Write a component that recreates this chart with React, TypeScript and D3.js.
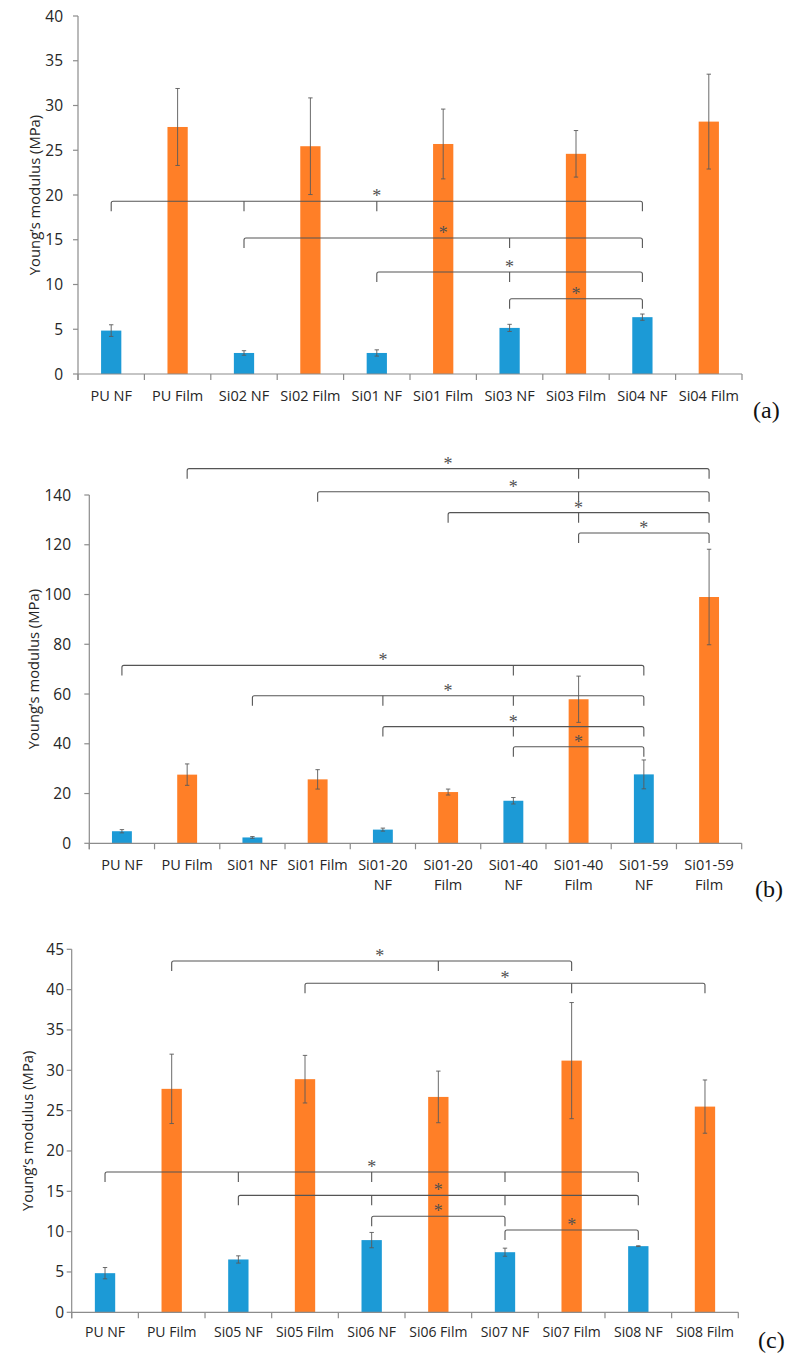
import React, { useEffect } from "react";
import * as d3 from "d3";

// ---------- DATA ----------
const catsA = ["PU NF", "PU Film", "Si02 NF", "Si02 Film", "Si01 NF", "Si01 Film", "Si03 NF", "Si03 Film", "Si04 NF", "Si04 Film"];
const valsA = [4.85, 27.6, 2.35, 25.45, 2.35, 25.7, 5.15, 24.6, 6.35, 28.2];
const errA = [0.65, 4.3, 0.25, 5.4, 0.35, 3.9, 0.4, 2.6, 0.35, 5.3];
const ticksA = [0, 5, 10, 15, 20, 25, 30, 35, 40];
const bracketsA = [
  { from: 0, to: 8, mids: [2, 4], level: 19.3 },
  { from: 2, to: 8, mids: [6], level: 15.2 },
  { from: 4, to: 8, mids: [6], level: 11.4 },
  { from: 6, to: 8, mids: [], level: 8.4 },
];

const catsB = ["PU NF", "PU Film", "Si01 NF", "Si01 Film", "Si01-20 NF", "Si01-20 Film", "Si01-40 NF", "Si01-40 Film", "Si01-59 NF", "Si01-59 Film"];
const valsB = [4.85, 27.6, 2.35, 25.7, 5.5, 20.6, 17.1, 57.9, 27.7, 99.0];
const errB = [0.65, 4.3, 0.35, 3.9, 0.6, 1.2, 1.3, 9.3, 5.8, 19.2];
const ticksB = [0, 20, 40, 60, 80, 100, 120, 140];
const bracketsB = [
  { from: 1, to: 9, mids: [7], level: 150.6 },
  { from: 3, to: 9, mids: [7], level: 141.3 },
  { from: 5, to: 9, mids: [7], level: 132.9 },
  { from: 7, to: 9, mids: [], level: 124.7 },
  { from: 0, to: 8, mids: [6], level: 71.5 },
  { from: 2, to: 8, mids: [4, 6], level: 59.3 },
  { from: 4, to: 8, mids: [6], level: 46.9 },
  { from: 6, to: 8, mids: [], level: 38.8 },
];

const catsC = ["PU NF", "PU Film", "Si05 NF", "Si05 Film", "Si06 NF", "Si06 Film", "Si07 NF", "Si07 Film", "Si08 NF", "Si08 Film"];
const valsC = [4.85, 27.7, 6.55, 28.9, 8.95, 26.7, 7.45, 31.2, 8.2, 25.5];
const errC = [0.7, 4.3, 0.45, 2.95, 0.95, 3.2, 0.5, 7.2, 0.05, 3.3];
const ticksC = [0, 5, 10, 15, 20, 25, 30, 35, 40, 45];
const bracketsC = [
  { from: 1, to: 7, mids: [5], level: 43.55, star: 4.12 },
  { from: 3, to: 9, mids: [7], level: 40.8 },
  { from: 0, to: 8, mids: [2, 4, 6], level: 17.4 },
  { from: 2, to: 8, mids: [4, 6], level: 14.5 },
  { from: 4, to: 6, mids: [], level: 11.9 },
  { from: 6, to: 8, mids: [], level: 10.2 },
];

const yTitle = "Young’s modulus (MPa)";

// ---------- STYLE ----------
const BLUE = "#1C9AD6";
const ORANGE = "#FF7F27";
const AXIS = "#8C8C8C";
const TEXT = "#262626";
const BRACKET = "#555555";
const FONT = "'Open Sans', 'Noto Sans', sans-serif";

type Bracket = { from: number; to: number; mids: number[]; level: number; star?: number };

type PanelProps = {
  cats: string[];
  vals: number[];
  errs: number[];
  ticks: number[];
  brackets: Bracket[];
  x0: number;
  x1: number;
  yMaxPx: number;
  y0Px: number;
  yMax: number;
  tickLabelX: number;
  labelY: number;
  labelSize: number;
  titleX: number;
  letter: string;
  letterX: number;
  letterY: number;
};

function Panel(p: PanelProps) {
  const x = d3.scaleBand<number>().domain(d3.range(p.cats.length)).range([p.x0, p.x1]).paddingInner(0).paddingOuter(0);
  const y = d3.scaleLinear().domain([0, p.yMax]).range([p.y0Px, p.yMaxPx]);
  const bw = x.bandwidth();
  const barW = bw * 0.305;
  const cx = (i: number) => (x(Math.floor(i)) as number) + bw / 2 + (i - Math.floor(i)) * bw;
  const tickLen = 10;
  const r = 2;

  return (
    <g>
      {/* bars */}
      {p.vals.map((v, i) => (
        <rect key={"b" + i} x={cx(i) - barW / 2} y={y(v)} width={barW} height={y(0) - y(v)} fill={i % 2 === 0 ? BLUE : ORANGE} />
      ))}
      {/* error bars */}
      {p.vals.map((v, i) => {
        const e = p.errs[i];
        const c = cx(i);
        return (
          <g key={"e" + i} stroke="#5a5a5a" strokeWidth={0.9}>
            <line x1={c} x2={c} y1={y(v + e)} y2={y(v - e)} />
            <line x1={c - 2.2} x2={c + 2.2} y1={y(v + e)} y2={y(v + e)} />
            <line x1={c - 2.2} x2={c + 2.2} y1={y(v - e)} y2={y(v - e)} />
          </g>
        );
      })}
      {/* y axis */}
      <line x1={p.x0} x2={p.x0} y1={y(p.yMax)} y2={y(0) + 6} stroke={AXIS} strokeWidth={1.2} />
      {p.ticks.map((t) => (
        <g key={"yt" + t}>
          <line x1={p.x0 - 5} x2={p.x0} y1={y(t)} y2={y(t)} stroke={AXIS} strokeWidth={1.2} />
          <text x={p.tickLabelX} y={y(t) + 5.5} textAnchor="end" fontFamily={FONT} fontSize={15.5} fill={TEXT}>
            {t}
          </text>
        </g>
      ))}
      {/* x axis */}
      <line x1={p.x0} x2={p.x1} y1={y(0)} y2={y(0)} stroke={AXIS} strokeWidth={1.2} />
      {d3.range(p.cats.length + 1).map((i) => {
        const xx = i < p.cats.length ? (x(i) as number) : p.x1;
        return <line key={"xt" + i} x1={xx} x2={xx} y1={y(0)} y2={y(0) + 6} stroke={AXIS} strokeWidth={1.2} />;
      })}
      {p.cats.map((c, i) => {
        const wrap = c.length > 9;
        const lines = wrap ? [c.slice(0, c.lastIndexOf(" ")), c.slice(c.lastIndexOf(" ") + 1)] : [c];
        return (
          <text key={"xl" + i} x={cx(i)} y={p.labelY} textAnchor="middle" fontFamily={FONT} fontSize={p.labelSize} fill={TEXT}>
            {lines.map((l, k) => (
              <tspan key={k} x={cx(i)} dy={k === 0 ? 0 : 20}>
                {l}
              </tspan>
            ))}
          </text>
        );
      })}
      {/* y title */}
      <text
        transform={`translate(${p.titleX},${(y(0) + y(p.yMax)) / 2}) rotate(-90)`}
        textAnchor="middle"
        dominantBaseline="central"
        fontFamily={FONT}
        fontSize={14.8}
        fill={TEXT}
      >
        {yTitle}
      </text>
      {/* significance brackets */}
      {p.brackets.map((b, k) => {
        const xa = cx(b.from);
        const xb = cx(b.to);
        const yy = y(b.level);
        const d = `M${xa},${yy + tickLen} L${xa},${yy + r} Q${xa},${yy} ${xa + r},${yy} L${xb - r},${yy} Q${xb},${yy} ${xb},${yy + r} L${xb},${yy + tickLen}`;
        const sx = b.star !== undefined ? cx(b.star) : (xa + xb) / 2;
        return (
          <g key={"br" + k}>
            <path d={d} fill="none" stroke={BRACKET} strokeWidth={1.1} />
            {b.mids.map((m) => (
              <line key={m} x1={cx(m)} x2={cx(m)} y1={yy} y2={yy + tickLen} stroke={BRACKET} strokeWidth={1.1} />
            ))}
            <text x={sx} y={yy + 1} textAnchor="middle" fontFamily="'Liberation Serif', 'Times New Roman', serif" fontSize={18} fill="#505050">
              *
            </text>
          </g>
        );
      })}
      {/* panel letter */}
      <text x={p.letterX} y={p.letterY} fontFamily="'Liberation Serif', 'Times New Roman', serif" fontSize={24} fill="#111">
        {p.letter}
      </text>
    </g>
  );
}

export default function App() {
  useEffect(() => {
    document.body.style.margin = "0";
  }, []);
  return (
    <svg width={799} height={1364} style={{ display: "block", background: "#fff" }}>
      <rect width={799} height={1364} fill="#fff" />
      <Panel
        cats={catsA}
        vals={valsA}
        errs={errA}
        ticks={ticksA}
        brackets={bracketsA}
        x0={78}
        x1={742}
        yMaxPx={16}
        y0Px={374}
        yMax={40}
        tickLabelX={63}
        labelY={401}
        labelSize={14.5}
        titleX={34}
        letter="(a)"
        letterX={753}
        letterY={418}
      />
      <Panel
        cats={catsB}
        vals={valsB}
        errs={errB}
        ticks={ticksB}
        brackets={bracketsB}
        x0={89.3}
        x1={741.7}
        yMaxPx={495}
        y0Px={843.3}
        yMax={140}
        tickLabelX={71}
        labelY={870}
        labelSize={14.5}
        titleX={33}
        letter="(b)"
        letterX={755}
        letterY={897}
      />
      <Panel
        cats={catsC}
        vals={valsC}
        errs={errC}
        ticks={ticksC}
        brackets={bracketsC}
        x0={71.7}
        x1={738.3}
        yMaxPx={949.3}
        y0Px={1312.3}
        yMax={45}
        tickLabelX={64}
        labelY={1337}
        labelSize={14}
        titleX={27}
        letter="(c)"
        letterX={758}
        letterY={1348}
      />
    </svg>
  );
}
